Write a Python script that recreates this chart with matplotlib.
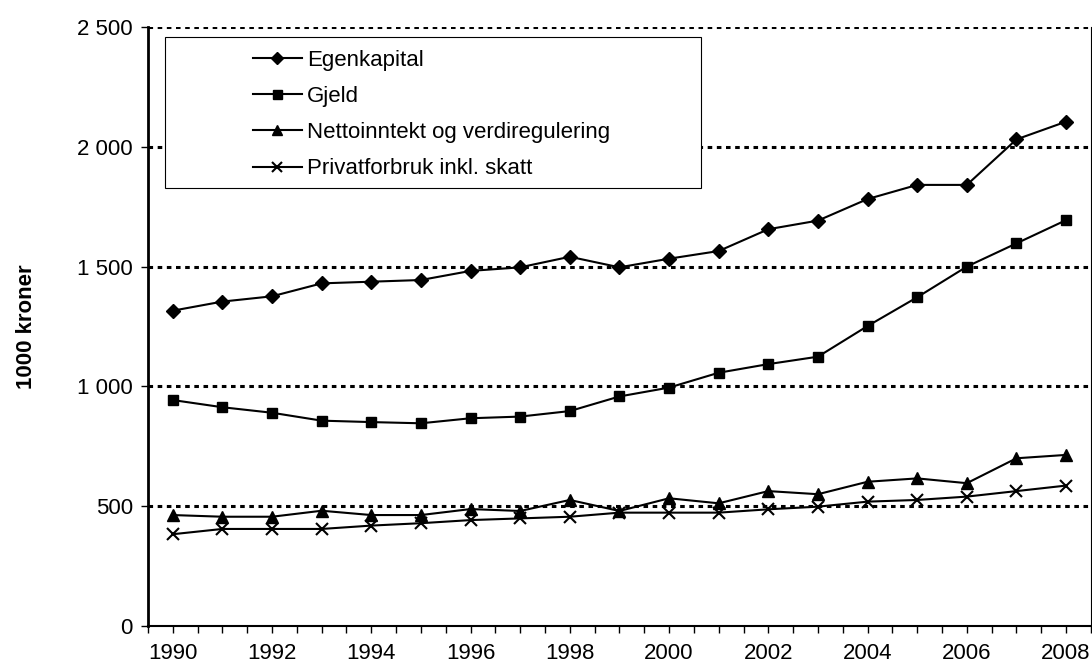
import matplotlib
matplotlib.use('Agg')
from matplotlib import pyplot as plt
from matplotlib.patches import Rectangle
import numpy as np

plt.rcParams['font.family'] = ['Liberation Sans', 'DejaVu Sans']

years = list(range(1990, 2009))
egenkapital = [1316, 1354, 1376, 1430, 1437, 1444, 1482, 1497, 1541, 1497,
               1533, 1565, 1656, 1692, 1782, 1841, 1841, 2031, 2105]
gjeld = [943, 913, 890, 857, 851, 846, 867, 874, 897, 958,
         995, 1057, 1093, 1124, 1252, 1372, 1500, 1597, 1694]
nettoinntekt = [463, 456, 456, 481, 463, 463, 488, 480, 526, 480,
                533, 512, 563, 550, 602, 616, 596, 700, 714]
privatforbruk = [383, 405, 405, 405, 419, 429, 442, 449, 456, 473,
                 473, 473, 487, 498, 519, 526, 540, 563, 586]

y_ticks = [0, 500, 1000, 1500, 2000, 2500]
y_labels = ["0", "500", "1 000", "1 500", "2 000", "2 500"]

FS = 16

fig = plt.figure(figsize=(10.92, 6.67), dpi=100)
ax = fig.add_axes([0.1355, 0.0615, 0.8635, 0.898])

for v in y_ticks[1:]:
    ax.axhline(v, color='black', lw=2.2, ls=(0, (1.5, 1.5)), zorder=1)

kw = dict(color='black', lw=1.5, zorder=3)
ax.plot(years, egenkapital, marker='D', ms=6.8, label='Egenkapital', **kw)
ax.plot(years, gjeld, marker='s', ms=7.2, label='Gjeld', **kw)
ax.plot(years, nettoinntekt, marker='^', ms=8.5, label='Nettoinntekt og verdiregulering', **kw)
ax.plot(years, privatforbruk, marker='x', ms=8.5, mew=1.5, label='Privatforbruk inkl. skatt', **kw)

ticks = np.arange(1989.5, 2008.51, 0.5)
ax.set_xlim(1989.5, 2008.5)
ax.set_ylim(0, 2500)
ax.set_xticks(ticks)
ax.set_xticklabels([str(int(t)) if t % 2 == 0 else "" for t in ticks])
ax.set_yticks(y_ticks)
ax.set_yticklabels(y_labels)
ax.tick_params(axis='both', direction='out', length=5, width=1, labelsize=FS, colors='black')
ax.tick_params(axis='x', pad=7)
ax.tick_params(axis='y', pad=6)

ax.spines['top'].set_visible(False)
ax.spines['left'].set_linewidth(2)
ax.spines['bottom'].set_linewidth(1.5)
ax.spines['right'].set_linewidth(0.8)

ax.set_ylabel('1000 kroner', fontsize=FS, fontweight='bold', va='center')
ax.yaxis.set_label_coords(-0.129, 0.5)

# Excel-style legend: wide frame, entries indented
ax.add_patch(Rectangle((0.018, 0.7312), 0.5684, 0.2521, transform=ax.transAxes,
                       facecolor='white', edgecolor='black', lw=0.8, zorder=4))
leg = ax.legend(loc='upper left', bbox_to_anchor=(0.1113, 0.9616), fontsize=FS,
                frameon=False, handlelength=2.2, handletextpad=0.22,
                labelspacing=0.68, borderpad=0, borderaxespad=0, markerscale=0.9)
leg.set_zorder(5)

fig.savefig('out.png', dpi=100)
